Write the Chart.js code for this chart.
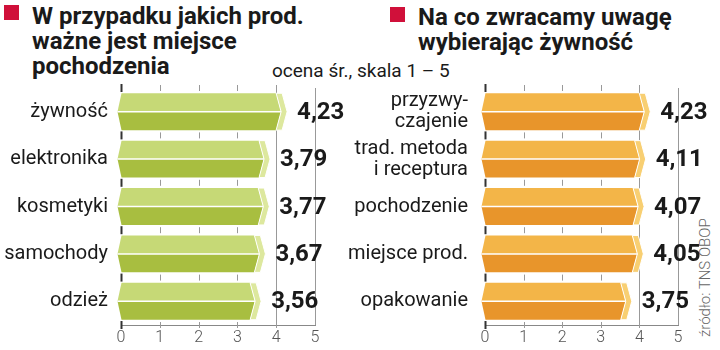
<!DOCTYPE html>
<html>
<head>
<meta charset="utf-8">
<script src="https://cdn.jsdelivr.net/npm/chart.js@4"></script>
<style>
  html, body { margin: 0; padding: 0; background: #fff; }
  body { width: 720px; height: 350px; position: relative; overflow: hidden; font-family: Roboto, sans-serif; color: #1a1a1a; }
  .box { position: absolute; }
  .sq { position: absolute; width: 15px; height: 15px; background: #d0103a; }
  .title { position: absolute; font-weight: 700; font-size: 24px; line-height: 25px; }
  .note { position: absolute; font-size: 19px; left: 272px; top: 59px; }
  .src { position: absolute; font-size: 15px; color: #666; font-weight: 300; transform-origin: left top; transform: rotate(-90deg); left: 696px; top: 337px; white-space: nowrap; }
</style>
</head>
<body>
<div class="sq" style="left:4px;top:5px"></div>
<div class="title" style="left:32px;top:4px">W przypadku jakich prod.<br>ważne jest miejsce<br>pochodzenia</div>
<div class="sq" style="left:390px;top:7px"></div>
<div class="title" style="left:418px;top:5px">Na co zwracamy uwagę<br>wybierając żywność</div>
<div class="note">ocena śr., skala 1 – 5</div>
<div class="src">źródło: TNS OBOP</div>

<div class="box" style="left:0;top:80px;width:360px;height:270px"><canvas id="leftChart"></canvas></div>
<div class="box" style="left:340px;top:80px;width:380px;height:270px"><canvas id="rightChart"></canvas></div>

<script>
const leftLabels = ['żywność', 'elektronika', 'kosmetyki', 'samochody', 'odzież'];
const leftValues = [4.23, 3.79, 3.77, 3.67, 3.56];

const rightLabels = [['przyzwy-', 'czajenie'], ['trad. metoda', 'i receptura'], 'pochodzenie', 'miejsce prod.', 'opakowanie'];
const rightValues = [4.23, 4.11, 4.07, 4.05, 3.75];

const scaleTicks = [0, 1, 2, 3, 4, 5];

const greenColors = { top: '#c6d976', bottom: '#a8be40', cap: '#dde89e' };
const orangeColors = { top: '#f3b548', bottom: '#e8952b', cap: '#f8cf72' };

// draws the prism-like bars instead of the default rectangles
const prismBars = {
  id: 'prismBars',
  beforeDatasetDraw(chart, args) {
    const ctx = chart.ctx;
    const col = chart.options.plugins.prismBars.colors;
    args.meta.data.forEach(el => {
      const x0 = el.base, x1 = el.x, h = el.height;
      const top = el.y - h / 2, bot = el.y + h / 2, mid = el.y;
      ctx.save();
      // upper face
      ctx.fillStyle = col.top;
      ctx.beginPath();
      ctx.moveTo(x0, top);
      ctx.lineTo(x1 - 9, top);
      ctx.lineTo(x1 - 4, mid);
      ctx.lineTo(x0 - 4, mid);
      ctx.closePath();
      ctx.fill();
      // lower face
      ctx.fillStyle = col.bottom;
      ctx.beginPath();
      ctx.moveTo(x0 - 4, mid);
      ctx.lineTo(x1 - 4, mid);
      ctx.lineTo(x1 - 9, bot);
      ctx.lineTo(x0, bot);
      ctx.closePath();
      ctx.fill();
      // end cap
      ctx.fillStyle = col.cap;
      ctx.strokeStyle = '#fff';
      ctx.lineWidth = 1;
      ctx.beginPath();
      ctx.moveTo(x1 - 9, top);
      ctx.lineTo(x1 - 3, top);
      ctx.lineTo(x1 + 2, mid);
      ctx.lineTo(x1 - 3, bot);
      ctx.lineTo(x1 - 9, bot);
      ctx.lineTo(x1 - 4, mid);
      ctx.closePath();
      ctx.fill();
      ctx.stroke();
      // white ridge
      ctx.lineWidth = 1.5;
      ctx.beginPath();
      ctx.moveTo(x0 - 4, mid);
      ctx.lineTo(x1 - 4, mid);
      ctx.stroke();
      ctx.restore();
    });
    return false;
  },
  afterDatasetsDraw(chart) {
    const ctx = chart.ctx;
    const meta = chart.getDatasetMeta(0);
    const data = chart.data.datasets[0].data;
    ctx.save();
    ctx.font = 'bold 24px Roboto';
    ctx.fillStyle = '#1a1a1a';
    ctx.textBaseline = 'middle';
    ctx.textAlign = 'left';
    meta.data.forEach((el, i) => {
      ctx.fillText(data[i].toFixed(2).replace('.', ','), el.x + 12, el.y + 1);
    });
    ctx.restore();
  }
};

// small tick marks between the bars
const bandTicks = {
  id: 'bandTicks',
  beforeDatasetsDraw(chart) {
    const ctx = chart.ctx;
    const xs = chart.scales.x, ys = chart.scales.y;
    const n = chart.data.labels.length;
    const step = (ys.bottom - ys.top) / n;
    ctx.save();
    for (let i = 0; i <= n; i++) {
      const y = ys.top + step * i;
      [0, 1, 2, 3, 4].forEach(v => {
        const x = Math.round(xs.getPixelForValue(v)) + 0.5;
        ctx.strokeStyle = v === 0 ? '#333' : '#999';
        ctx.lineWidth = v === 0 ? 2 : 1;
        const len = v === 0 ? 4 : 3;
        ctx.beginPath();
        ctx.moveTo(x, y - len);
        ctx.lineTo(x, y + len);
        ctx.stroke();
      });
    }
    ctx.restore();
  }
};

function makeChart(id, labels, values, colors, yWidth, padRight, labelPad) {
  return new Chart(document.getElementById(id), {
    type: 'bar',
    data: {
      labels: labels,
      datasets: [{ data: values, backgroundColor: colors.top, barPercentage: 0.82, categoryPercentage: 0.95 }]
    },
    options: {
      indexAxis: 'y',
      responsive: true,
      maintainAspectRatio: false,
      animation: false,
      layout: { padding: { top: 8, right: padRight, left: 0, bottom: 0 } },
      plugins: {
        legend: { display: false },
        tooltip: { enabled: false },
        prismBars: { colors: colors }
      },
      scales: {
        x: {
          min: 0,
          max: 5,
          afterBuildTicks: s => { s.ticks = scaleTicks.map(v => ({ value: v })); },
          afterFit: s => { s.height = 25; s.paddingLeft = 0; s.paddingRight = 0; },
          grid: {
            drawTicks: false,
            color: c => c.tick && c.tick.value >= 4 ? '#999' : 'rgba(0,0,0,0)',
            lineWidth: 1
          },
          border: { display: true, color: '#888', width: 1 },
          ticks: { padding: 3, color: '#555', font: { family: 'Roboto', size: 16, weight: 300 } }
        },
        y: {
          afterFit: s => { s.width = yWidth; s.paddingTop = 0; s.paddingBottom = 0; },
          grid: { display: false, drawTicks: false },
          border: { display: false },
          ticks: { padding: labelPad, color: '#1a1a1a', font: { family: 'Roboto', size: 20, lineHeight: 1.05 } }
        }
      }
    },
    plugins: [bandTicks, prismBars]
  });
}

makeChart('leftChart', leftLabels, leftValues, greenColors, 121, 45, 13);
makeChart('rightChart', rightLabels, rightValues, orangeColors, 145, 42, 17);
</script>
</body>
</html>
